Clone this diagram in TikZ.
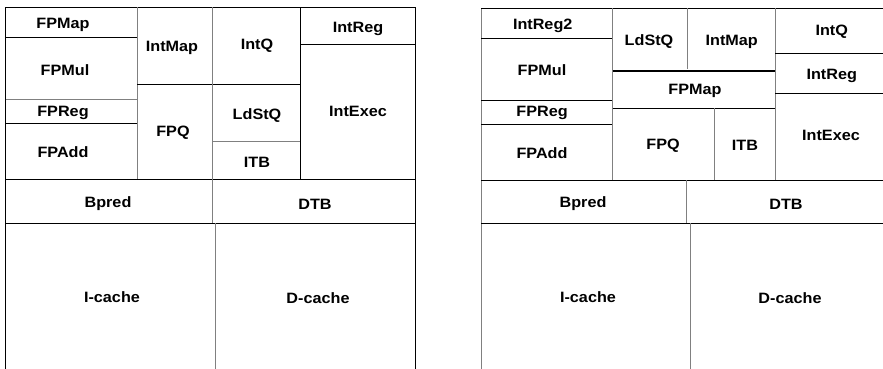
\documentclass[tikz,border=0pt]{standalone}
\usepackage{fontspec}
\setmainfont{Liberation Sans}[FakeStretch=1.08]
\tikzset{
    wall/.style={line width=1pt, black},
    seam/.style={line width=1pt, gray},
    lbl/.style={font=\fontsize{15}{17}\selectfont\bfseries, inner sep=0pt}
}
\begin{document}
\begin{tikzpicture}[x=1pt, y=-1pt]

            % the frame
            \useasboundingbox (0, 0) rectangle (883, 369);

            % left plan, outline and bars
            \draw[wall] (5.5, 369) -- (5.5, 7.5) -- (415.5, 7.5) -- (415.5, 369);
            \draw[wall] (5.5, 179) -- (415.5, 179);
            \draw[wall] (5.5, 223.3) -- (415.5, 223.3);
            \draw[seam] (212, 179) -- (212, 223.3);
            \draw[seam] (215, 223.3) -- (215, 369);

            % left plan, the core
            \draw[wall] (5.5, 37.7) -- (137, 37.7);
            \draw[seam] (5.5, 99.7) -- (137, 99.7);
            \draw[wall] (5.5, 123.3) -- (137, 123.3);
            \draw[seam] (137, 7.5) -- (137, 179);
            \draw[wall] (137, 84.3) -- (300, 84.3);
            \draw[seam] (212, 7.5) -- (212, 179);
            \draw[seam] (212, 141) -- (300, 141);
            \draw[wall] (300, 7.5) -- (300, 179);
            \draw[wall] (300, 45) -- (415.5, 45);

            % right plan, outline and bars
            \draw[seam] (481, 369) -- (481, 8.3);
            \draw[wall] (481, 8.3) -- (883, 8.3);
            \draw[wall] (481, 180) -- (883, 180);
            \draw[wall] (481, 223.3) -- (883, 223.3);
            \draw[seam] (686, 180) -- (686, 223.3);
            \draw[seam] (690, 223.3) -- (690, 369);

            % right plan, the core
            \draw[wall] (481, 38.3) -- (612.7, 38.3);
            \draw[wall] (481, 100) -- (612.7, 100);
            \draw[wall] (481, 124) -- (612.7, 124);
            \draw[seam] (612.7, 8.3) -- (612.7, 180);
            \draw[seam] (687, 8.3) -- (687, 69);
            \draw[wall] (612.7, 71) -- (775, 71);
            \draw[wall] (612.7, 108.3) -- (775, 108.3);
            \draw[seam] (714, 108.3) -- (714, 180);
            \draw[seam] (775, 8.3) -- (775, 180);
            \draw[wall] (775, 53.3) -- (883, 53.3);
            \draw[wall] (775, 93.3) -- (883, 93.3);

            % labels
            \foreach \x/\y/\t/\n in {
                63/25/FPMap/lfpmap, 65/70/FPMul/lfpmul, 63/113/FPReg/lfpreg,
                63/152/FPAdd/lfpadd, 172/48/IntMap/lintmap, 173/133/FPQ/lfpq,
                257/46/IntQ/lintq, 257/116/LdStQ/lldstq, 257/162/ITB/litb,
                358/29/IntReg/lintreg, 358/111/IntExec/lintexec,
                108/204/Bpred/lbpred, 315/204/DTB/ldtb,
                112/297/I-cache/licache, 318/298/D-cache/ldcache,
                542.7/26/IntReg2/rintregb, 542/70/FPMul/rfpmul, 542/113/FPReg/rfpreg,
                542/152.7/FPAdd/rfpadd, 649/42/LdStQ/rldstq, 731.7/42/IntMap/rintmap,
                695/90.7/FPMap/rfpmap, 663/146/FPQ/rfpq, 745/145/ITB/ritb,
                831.7/32/IntQ/rintq, 831.7/76/IntReg/rintreg, 831/135/IntExec/rintexec,
                583/204/Bpred/rbpred, 786/204/DTB/rdtb,
                588/297/I-cache/ricache, 790/298/D-cache/rdcache} {
                \node[lbl] (\n) at (\x, \y) {\t};
            }
        \end{tikzpicture}
\end{document}
